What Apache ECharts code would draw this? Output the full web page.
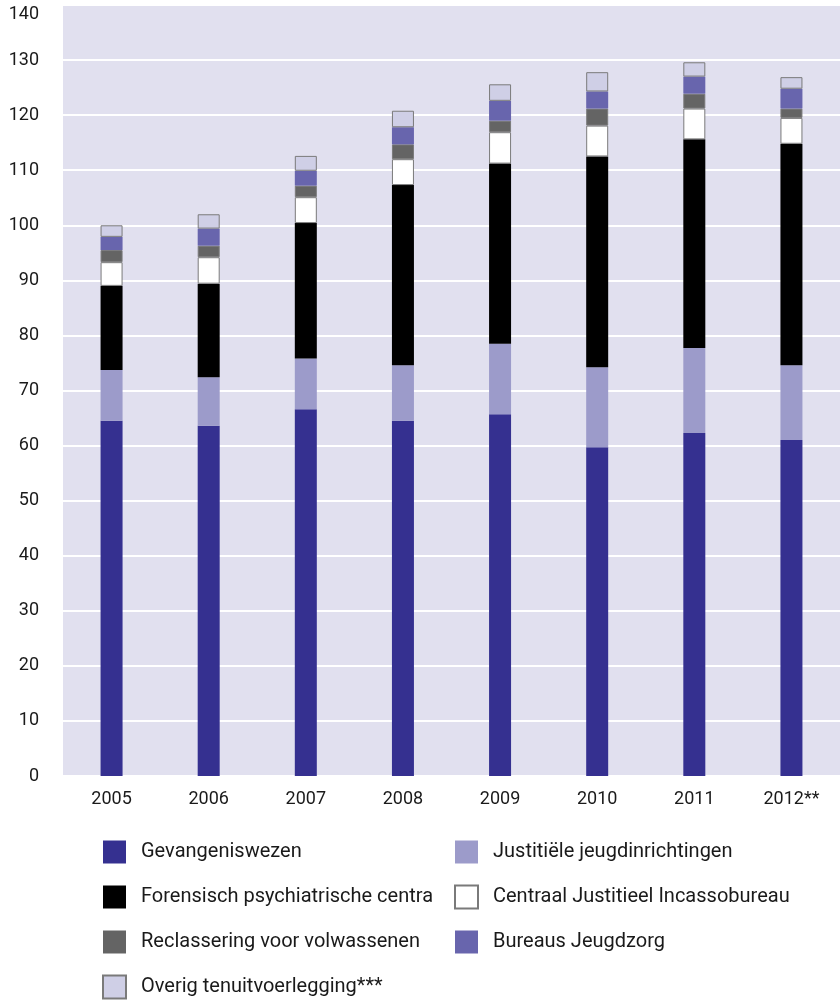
<!DOCTYPE html>
<html>
<head>
<meta charset="utf-8">
<script src="https://cdn.jsdelivr.net/npm/echarts@6/dist/echarts.min.js"></script>
<style>
  html, body { margin: 0; padding: 0; background: #fff; }
  #chart { width: 840px; height: 1002px; }
</style>
</head>
<body>
<div id="chart"></div>
<script>
// categories and tick labels
var years = ['2005', '2006', '2007', '2008', '2009', '2010', '2011', '2012**'];
var yTicks = [0, 10, 20, 30, 40, 50, 60, 70, 80, 90, 100, 110, 120, 130, 140];

// series values
var gevangeniswezen = [64.5, 63.6, 66.6, 64.5, 65.7, 59.7, 62.3, 61.0];
var jeugdinrichtingen = [9.2, 8.8, 9.2, 10.1, 12.8, 14.5, 15.4, 13.6];
var forensisch = [15.3, 17.0, 24.6, 32.7, 32.7, 38.3, 37.9, 40.2];
var cjib = [4.3, 4.8, 4.7, 4.7, 5.7, 5.6, 5.6, 4.7];
var reclassering = [2.2, 2.1, 2.1, 2.7, 2.1, 3.1, 2.7, 1.7];
var bureausJeugdzorg = [2.4, 3.1, 2.7, 3.1, 3.6, 3.1, 3.1, 3.6];
var overig = [2.1, 2.6, 2.7, 3.0, 3.0, 3.5, 2.6, 2.1];

var names = {
  gev: 'Gevangeniswezen',
  jji: 'Justitiële jeugdinrichtingen',
  fpc: 'Forensisch psychiatrische centra',
  cjib: 'Centraal Justitieel Incassobureau',
  rec: 'Reclassering voor volwassenen',
  bjz: 'Bureaus Jeugdzorg',
  ov: 'Overig tenuitvoerlegging***'
};

var chart = echarts.init(document.getElementById('chart'));

function bar(name, data, color, border) {
  return {
    name: name,
    type: 'bar',
    stack: 'total',
    barWidth: 22,
    data: data,
    itemStyle: {
      color: color,
      borderColor: border ? '#7a7a7a' : color,
      borderWidth: border ? 1 : 0
    }
  };
}

var legendText = { fontFamily: 'Roboto', fontSize: 20, lineHeight: 22, color: '#1a1a1a', padding: [4, 0, 0, 10] };

var option = {
  animation: false,
  textStyle: { fontFamily: 'Roboto' },
  grid: {
    left: 63, right: 0, top: 5, bottom: 226,
    show: true, backgroundColor: '#e1e0ef', borderWidth: 0
  },
  xAxis: {
    type: 'category',
    data: years,
    axisLine: { show: false },
    axisTick: { show: false },
    axisLabel: { fontSize: 18, color: '#1a1a1a', margin: 14 }
  },
  yAxis: {
    type: 'value',
    min: yTicks[0],
    max: yTicks[yTicks.length - 1],
    interval: 10,
    axisLine: { show: false },
    axisTick: { show: false },
    splitLine: { lineStyle: { color: '#ffffff', width: 2 } },
    axisLabel: { fontSize: 18, color: '#1a1a1a', margin: 24, verticalAlignMaxLabel: 'top' }
  },
  legend: [
    {
      orient: 'vertical', left: 102, top: 839, height: 220, padding: 0,
      itemWidth: 23, itemHeight: 23, itemGap: 19,
      icon: 'rect',
      textStyle: legendText,
      data: [names.gev, names.fpc, { name: names.rec, itemStyle: { borderWidth: 0 } }, names.ov]
    },
    {
      orient: 'vertical', left: 454, top: 839, height: 220, padding: 0,
      itemWidth: 23, itemHeight: 23, itemGap: 19,
      icon: 'rect',
      textStyle: legendText,
      data: [names.jji, names.cjib, names.bjz]
    }
  ],
  series: [
    bar(names.gev, gevangeniswezen, '#353090', false),
    bar(names.jji, jeugdinrichtingen, '#9c9bca', false),
    bar(names.fpc, forensisch, '#000000', false),
    bar(names.cjib, cjib, '#ffffff', true),
    bar(names.rec, reclassering, '#646464', true),
    bar(names.bjz, bureausJeugdzorg, '#6865ad', false),
    bar(names.ov, overig, '#cfcfe6', true)
  ]
};

chart.setOption(option);
</script>
</body>
</html>
